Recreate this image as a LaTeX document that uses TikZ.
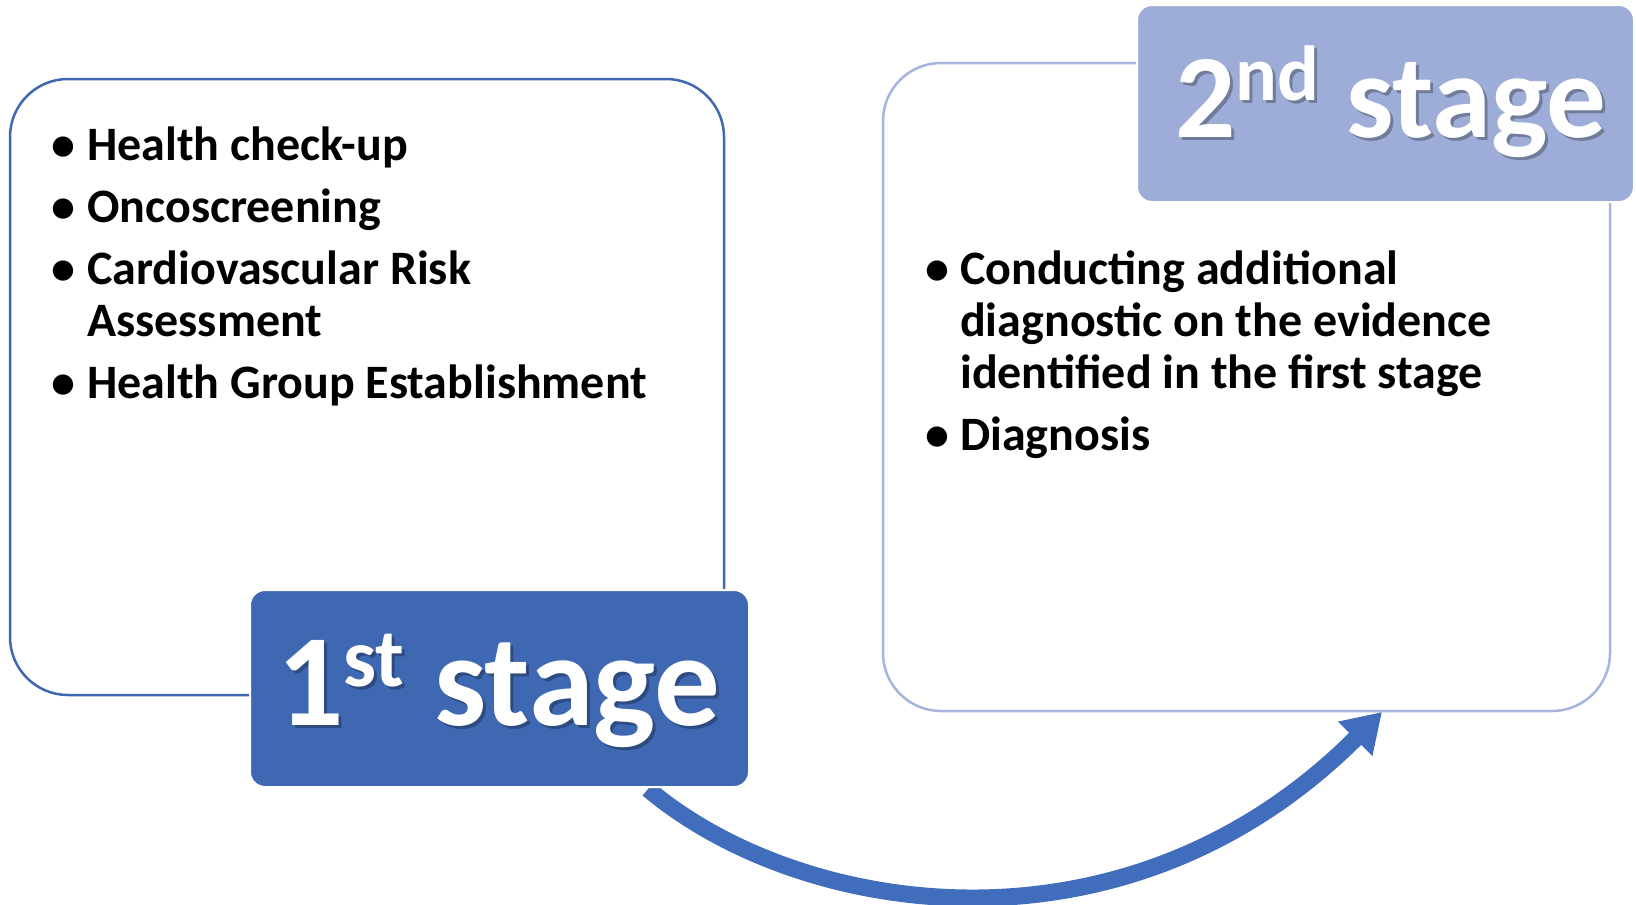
\documentclass[tikz,border=0pt]{standalone}
\usepackage{fontspec}
\setmainfont{Carlito}
\usetikzlibrary{arrows.meta}
\definecolor{sOne}{HTML}{3F68B2}
\definecolor{sTwo}{HTML}{9DADD8}
\definecolor{lineOne}{HTML}{4068B0}
\definecolor{lineTwo}{HTML}{A6B5DD}
\definecolor{arrowc}{HTML}{416DBD}
\newcommand{\itemfont}{\fontsize{48}{52}\selectfont\bfseries}
\newcommand{\stagefontA}{\fontsize{131}{131}\selectfont\bfseries}
\newcommand{\stagefontB}{\fontsize{119}{119}\selectfont\bfseries}
\begin{document}
\begin{tikzpicture}[x=1pt,y=-1pt,
  outline/.style={draw, line width=2.5pt, rounded corners=58pt, inner sep=0pt, outer sep=0pt, fill=none},
  stagebox/.style={draw=white, line width=2pt, rounded corners=15pt, inner sep=0pt, outer sep=0pt},
  itemtext/.style={anchor=base west, inner sep=0pt, font=\itemfont, text=black},
  bullettext/.style={anchor=base, inner sep=0pt, font=\itemfont, text=black},
  stagetext/.style={anchor=base west, inner sep=0pt, text=white},
  shadowtext/.style={anchor=base west, inner sep=0pt, text=black, opacity=0.28},
  flow/.style={draw=arrowc, line width=17pt, -{Triangle[length=38pt, width=46pt]}}
]
\useasboundingbox (0,0) rectangle (1636,905);
\fill[white] (0,0) rectangle (1636,905);

% outline boxes
\node[outline, draw=lineOne, minimum width=714pt, minimum height=616pt] (boxA) at (367,387) {};
\node[outline, draw=lineTwo, minimum width=727pt, minimum height=648pt] (boxB) at (1246.5,387) {};

% curved arrow
\coordinate (arrS) at (648,789);
\coordinate (arrE) at (1382,712);
\draw[flow] (arrS) .. controls (800,917) and (1125,969) .. (arrE);

% stage boxes
\node[stagebox, fill=sOne, minimum width=499pt, minimum height=197pt] (stageA) at (499.5,688.5) {};
\node[stagebox, fill=sTwo, minimum width=497pt, minimum height=197pt] (stageB) at (1385.5,103.5) {};

% stage texts
\node[shadowtext, font=\stagefontA] (stageAsh) at (280,728) {1\raisebox{39pt}{\fontsize{83}{83}\selectfont st}\ stage};
\node[stagetext, font=\stagefontA] (stageAt) at (277,725) {1\raisebox{39pt}{\fontsize{83}{83}\selectfont st}\ stage};
\node[shadowtext, font=\stagefontB] (stageBsh) at (1178,140) {2\raisebox{37pt}{\fontsize{78}{78}\selectfont nd}\ stage};
\node[stagetext, font=\stagefontB] (stageBt) at (1175,137) {2\raisebox{37pt}{\fontsize{78}{78}\selectfont nd}\ stage};

% left list
\node[bullettext] (a1b) at (63.5,160) {•};
\node[itemtext] (a1) at (87,160) {Health check-up};
\node[bullettext] (a2b) at (63.5,222) {•};
\node[itemtext] (a2) at (87,222) {Oncoscreening};
\node[bullettext] (a3b) at (63.5,284) {•};
\node[itemtext] (a3) at (87,284) {Cardiovascular Risk};
\node[itemtext] (a3c) at (87,336) {Assessment};
\node[bullettext] (a4b) at (63.5,398) {•};
\node[itemtext] (a4) at (87,398) {Health Group Establishment};

% right list
\node[bullettext] (b1b) at (937,284) {•};
\node[itemtext] (b1) at (960,284) {Conducting additional};
\node[itemtext] (b1c) at (960,336) {diagnostic on the evidence};
\node[itemtext] (b1d) at (960,388) {identified in the first stage};
\node[bullettext] (b2b) at (937,450) {•};
\node[itemtext] (b2) at (960,450) {Diagnosis};
\end{tikzpicture}
\end{document}
